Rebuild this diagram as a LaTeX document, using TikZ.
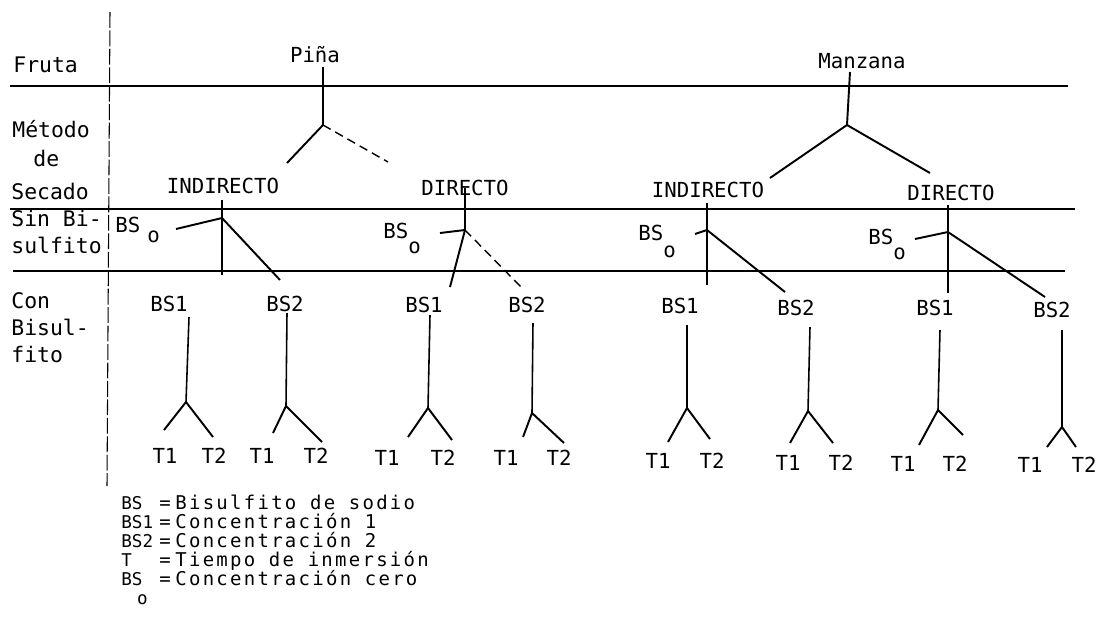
\documentclass[tikz,border=0pt]{standalone}
\usepackage{fontspec}
\newfontfamily\twfont{DejaVu Sans Mono}
\newfontfamily\legfont{DejaVu Sans Mono}[LetterSpace=12]
\begin{document}
\begin{tikzpicture}[x=0.02cm,y=-0.02cm,
  lbl/.style={font=\twfont\fontsize{11.8}{14}\selectfont, inner sep=0pt, anchor=base},
  lblw/.style={lbl, anchor=base west},
  side/.style={font=\twfont\fontsize{12.2}{14}\selectfont, inner sep=0pt, anchor=base west},
  legl/.style={font=\twfont\fontsize{10}{11}\selectfont, inner sep=0pt, anchor=base west},
  legr/.style={font=\legfont\fontsize{10.8}{11}\selectfont, inner sep=0pt, anchor=base west},
  rule/.style={line width=1.2pt},
  sepline/.style={line width=0.6pt, dash pattern=on 9pt off 1.5pt},
  br/.style={line width=1.1pt},
  stem/.style={line width=0.9pt},
  faint/.style={line width=0.8pt, dash pattern=on 5pt off 3pt},
]
\path[use as bounding box] (0,0) rectangle (1100,637);

% horizontal rules and separator
\coordinate (r1a) at (10,86);   \coordinate (r1b) at (1068,86);
\coordinate (r2a) at (10,209);  \coordinate (r2b) at (1075,209);
\coordinate (r3a) at (13,271);  \coordinate (r3b) at (1065,271);
\coordinate (va) at (110,12);   \coordinate (vb) at (107,486);
\draw[rule] (r1a) -- (r1b);
\draw[rule] (r2a) -- (r2b);
\draw[rule] (r3a) -- (r3b);
\draw[sepline] (va) -- (vb);

% left labels
\node[side] (fruta) at (13,72) {Fruta};
\node[side] (metodo) at (12,137) {Método};
\node[side] (de) at (33,166) {de};
\node[side] (secado) at (11,199) {Secado};
\node[side] (sinbi) at (11,226) {Sin Bi-};
\node[side] (sulf) at (11,253) {sulfito};
\node[side] (con) at (11,308) {Con};
\node[side] (bisul) at (11,335) {Bisul-};
\node[side] (fito) at (11,362) {fito};

% Pina
\node[lbl] (pina) at (315,62) {Piña};
\coordinate (pt) at (323,67);
\coordinate (pj) at (323,125);
\coordinate (pl) at (287,163);
\coordinate (pr) at (388,162);
\draw[br] (pt) -- (pj) -- (pl);
\draw[faint] (pj) -- (pr);

% Pina indirecto
\node[lbl] (pind) at (223,193) {INDIRECTO};
\coordinate (pit) at (222,200);
\coordinate (pij) at (222,218);
\coordinate (pib) at (222,275);
\coordinate (pir) at (280,280);
\node[lblw] (pio) at (115,232) {BS\hspace{4pt}\raisebox{-6pt}{o}};
\coordinate (pioe) at (176,229);
\draw[br] (pit) -- (pib);
\draw[br] (pioe) -- (pij) -- (pir);

% Pina directo
\node[lbl] (pdir) at (465,195) {DIRECTO};
\coordinate (pdt) at (465,188);
\coordinate (pdj) at (465,230);
\coordinate (pdl) at (450,287);
\coordinate (pdr) at (522,288);
\node[lblw] (pdo) at (383,238) {BS\raisebox{-9pt}{o}};
\coordinate (pdoe) at (440,233);
\draw[br] (pdt) -- (pdj) -- (pdl);
\draw[br] (pdoe) -- (pdj);
\draw[faint] (pdj) -- (pdr);

% Manzana
\node[lbl] (manz) at (862,68) {Manzana};
\coordinate (mt) at (850,72);
\coordinate (mj) at (847,125);
\coordinate (ml) at (770,178);
\coordinate (mr) at (930,173);
\draw[br] (mt) -- (mj) -- (ml);
\draw[br] (mj) -- (mr);

% Manzana indirecto
\node[lbl] (mind) at (708,197) {INDIRECTO};
\coordinate (mit) at (707,203);
\coordinate (mij) at (707,230);
\coordinate (mib) at (707,285);
\coordinate (mir) at (785,292);
\node[lblw] (mio) at (638,240) {BS\raisebox{-10pt}{o}};
\coordinate (mioe) at (695,234);
\draw[br] (mit) -- (mib);
\draw[br] (mioe) -- (mij) -- (mir);

% Manzana directo
\node[lbl] (mdir) at (951,200) {DIRECTO};
\coordinate (mdt) at (948,205);
\coordinate (mdj) at (948,232);
\coordinate (mdb) at (948,293);
\coordinate (mdr) at (1045,297);
\node[lblw] (mdo) at (868,244) {BS\raisebox{-9pt}{o}};
\coordinate (mdoe) at (915,239);
\draw[br] (mdt) -- (mdb);
\draw[br] (mdoe) -- (mdj) -- (mdr);

% lower trees
\foreach \n/\qx/\qy/\lab/\vx/\vt/\ax/\ay/\lx/\ly/\rx/\ry/\ua/\ub/\uy in {
 a/169/311/BS1/189/317/186/402/164/430/213/437/165/214/463,
 b/285/311/BS2/287/313/286/406/273/433/322/442/262/316/463,
 c/424/312/BS1/430/315/428/408/408/437/452/440/387/443/465,
 d/527/312/BS2/533/323/532/413/523/437/564/443/506/559/465,
 e/680/313/BS1/687/325/687/408/668/442/710/439/658/712/468,
 f/796/315/BS2/810/327/808/411/790/443/833/443/788/841/470,
 g/935/315/BS1/940/330/938/410/919/445/963/435/903/955/471,
 h/1052/317/BS2/1062/330/1062/427/1047/447/1076/447/1030/1084/472}
{
 \node[lbl] (bs\n) at (\qx,\qy) {\lab};
 \coordinate (st\n) at (\vx,\vt);
 \coordinate (ap\n) at (\ax,\ay);
 \coordinate (le\n) at (\lx,\ly);
 \coordinate (re\n) at (\rx,\ry);
 \draw[stem] (st\n) -- (ap\n);
 \draw[br] (le\n) -- (ap\n) -- (re\n);
 \node[lbl] (ta\n) at (\ua,\uy) {T1};
 \node[lbl] (tb\n) at (\ub,\uy) {T2};
}

% legend
\node[legl] (k1) at (121,509) {BS};
\node[legr] (e1) at (159,509) {=};
\node[legr] (d1) at (175,509) {Bisulfito de sodio};
\node[legl] (k2) at (121,528) {BS1};
\node[legr] (e2) at (159,528) {=};
\node[legr] (d2) at (175,528) {Concentración 1};
\node[legl] (k3) at (121,547) {BS2};
\node[legr] (e3) at (159,547) {=};
\node[legr] (d3) at (175,547) {Concentración 2};
\node[legl] (k4) at (121,566) {T};
\node[legr] (e4) at (159,566) {=};
\node[legr] (d4) at (175,566) {Tiempo de inmersión};
\node[legl] (k5) at (121,585) {BS\rlap{\hspace{-3pt}\raisebox{-11pt}{o}}};
\node[legr] (e5) at (159,585) {=};
\node[legr] (d5) at (175,585) {Concentración cero};
\end{tikzpicture}
\end{document}
